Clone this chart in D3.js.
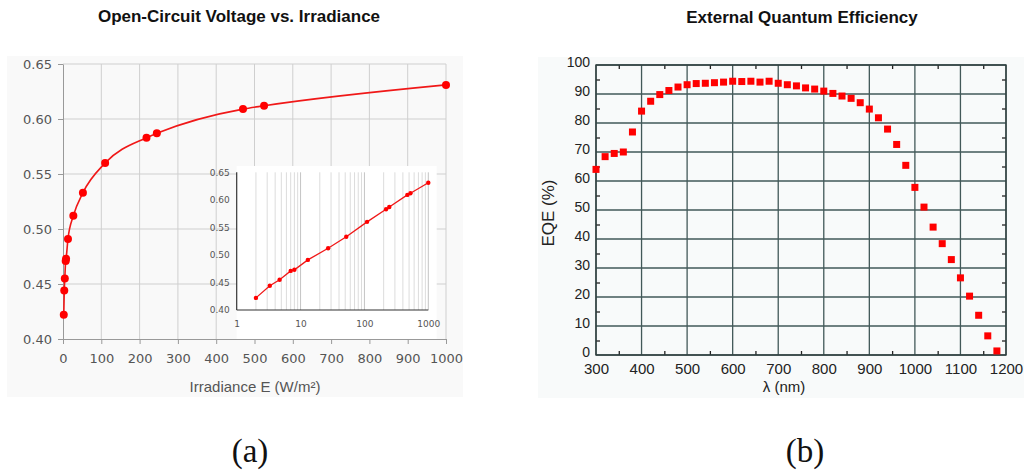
<!DOCTYPE html>
<html>
<head>
<meta charset="utf-8">
<script src="https://cdn.jsdelivr.net/npm/d3@7/dist/d3.min.js"></script>
<style>
  body { margin: 0; background: #fff; }
  svg text { font-family: "Liberation Sans", Arial, sans-serif; }
</style>
</head>
<body>
<svg id="fig" width="1024" height="472"></svg>
<script>
// ---- (a) open-circuit voltage against irradiance ----
const irradiance = [2, 3.3, 4.7, 7, 8, 13, 27, 52, 110, 218, 245, 470, 525, 1000];   // W/m²
const voc        = [0.422, 0.444, 0.455, 0.471, 0.473, 0.491, 0.512, 0.533, 0.560, 0.583, 0.587, 0.609, 0.612, 0.631]; // V
const irrTicks   = [0, 100, 200, 300, 400, 500, 600, 700, 800, 900, 1000];
const vocTicks   = [0.40, 0.45, 0.50, 0.55, 0.60, 0.65];
const logTicks   = [1, 10, 100, 1000];

// ---- (b) external quantum efficiency ----
const wavelength = [300, 320, 340, 360, 380, 400, 420, 440, 460, 480,
                    500, 520, 540, 560, 580, 600, 620, 640, 660, 680,
                    700, 720, 740, 760, 780, 800, 820, 840, 860, 880,
                    900, 920, 940, 960, 980, 1000, 1020, 1040, 1060, 1080,
                    1100, 1120, 1140, 1160, 1180];
const eqe        = [64.0, 68.4, 69.5, 70.0, 76.9, 84.1, 87.5, 89.8, 91.2, 92.4,
                    93.2, 93.6, 93.7, 93.9, 94.1, 94.4, 94.3, 94.4, 94.1, 94.4,
                    93.7, 93.2, 92.8, 92.1, 91.7, 91.0, 90.2, 89.3, 88.5, 87.0,
                    84.8, 81.8, 77.9, 72.6, 65.4, 57.8, 51.0, 44.1, 38.4, 32.9,
                    26.6, 20.3, 13.7, 6.6, 1.4];
const lambdaTicks = [300, 400, 500, 600, 700, 800, 900, 1000, 1100, 1200];
const lambdaMinor = [350, 450, 550, 650, 750, 850, 950, 1050, 1150];
const eqeTicks    = [0, 10, 20, 30, 40, 50, 60, 70, 80, 90, 100];
const eqeMinor    = [5, 15, 25, 35, 45, 55, 65, 75, 85, 95];

const svg = d3.select("#fig");
const pts = irradiance.map((e, i) => ({ e, v: voc[i] }));
const intFmt = d3.format("d");

// ================= panel (a) =================
const A = { left: 63, right: 446, top: 64, bottom: 339 };
svg.append("rect").attr("x", 7).attr("y", 56).attr("width", 456).attr("height", 341).attr("fill", "#f9f9f9");

const xA = d3.scaleLinear().domain([0, 1000]).range([A.left, A.right]);
const yA = d3.scaleLinear().domain([0.40, 0.65]).range([A.bottom, A.top]);

const gA = svg.append("g");
// grid
gA.append("g").selectAll("line").data(irrTicks.slice(1)).join("line")
  .attr("x1", d => xA(d)).attr("x2", d => xA(d)).attr("y1", A.top).attr("y2", A.bottom)
  .attr("stroke", "#cfcfcf").attr("stroke-width", 1);
gA.append("g").selectAll("line").data(vocTicks.slice(1)).join("line")
  .attr("x1", A.left).attr("x2", A.right).attr("y1", d => yA(d)).attr("y2", d => yA(d))
  .attr("stroke", "#cfcfcf").attr("stroke-width", 1);

// axes
const axA = gA.append("g").attr("transform", `translate(0,${A.bottom})`)
  .call(d3.axisBottom(xA).tickValues(irrTicks).tickFormat(intFmt).tickSize(5).tickPadding(10).tickSizeOuter(0));
const ayA = gA.append("g").attr("transform", `translate(${A.left},0)`)
  .call(d3.axisLeft(yA).tickValues(vocTicks).tickFormat(d3.format(".2f")).tickSize(5).tickPadding(6).tickSizeOuter(0));
[axA, ayA].forEach(g => {
  g.select(".domain").attr("stroke", "#999");
  g.selectAll(".tick line").attr("stroke", "#999");
  g.selectAll("text").attr("fill", "#555").style("font-family", "'DejaVu Sans', sans-serif").style("font-size", "13px");
});

// main curve and points
const lineA = d3.line().x(d => xA(d.e)).y(d => yA(d.v)).curve(d3.curveMonotoneX);
gA.append("path").datum(pts).attr("d", lineA).attr("fill", "none").attr("stroke", "#f01818").attr("stroke-width", 1.6);
gA.append("g").selectAll("circle").data(pts).join("circle")
  .attr("cx", d => xA(d.e)).attr("cy", d => yA(d.v)).attr("r", 4).attr("fill", "#f00");

// inset, log scale
const I = { left: 236.7, right: 428.3, top: 172.3, bottom: 310 };
svg.append("rect").attr("x", I.left).attr("y", 166).attr("width", 200).attr("height", A.bottom - 166).attr("fill", "#fff");
const xI = d3.scaleLog().domain([1, 1000]).range([I.left, I.right]);
const yI = d3.scaleLinear().domain([0.40, 0.65]).range([I.bottom, I.top]);
const gI = svg.append("g");
gI.append("g").selectAll("line").data(xI.ticks().filter(d => d > 1)).join("line")
  .attr("x1", d => xI(d)).attr("x2", d => xI(d)).attr("y1", I.top).attr("y2", I.bottom)
  .attr("stroke", d => logTicks.includes(d) ? "#c4c4c4" : "#dcdcdc").attr("stroke-width", 1);
const axI = gI.append("g").attr("transform", `translate(0,${I.bottom})`)
  .call(d3.axisBottom(xI).tickValues(logTicks).tickFormat(intFmt).tickSize(0).tickPadding(11));
const ayI = gI.append("g").attr("transform", `translate(${I.left},0)`)
  .call(d3.axisLeft(yI).tickValues(vocTicks).tickFormat(d3.format(".2f")).tickSize(0).tickPadding(7));
[axI, ayI].forEach(g => {
  g.select(".domain").attr("stroke", "#333").attr("stroke-width", 1.2);
  g.selectAll("text").attr("fill", "#555").style("font-family", "'DejaVu Sans', sans-serif").style("font-size", "9px");
});
axI.select(".domain").attr("d", `M${I.left},0H${I.right}`);
ayI.select(".domain").attr("d", `M0,${I.bottom}V${I.top}`);
const lineI = d3.line().x(d => xI(d.e)).y(d => yI(d.v));
gI.append("path").datum(pts).attr("d", lineI).attr("fill", "none").attr("stroke", "#f01818").attr("stroke-width", 1.3);
gI.append("g").selectAll("circle").data(pts).join("circle")
  .attr("cx", d => xI(d.e)).attr("cy", d => yI(d.v)).attr("r", 2.2).attr("fill", "#f00");

// titles and labels
svg.append("text").attr("x", 239).attr("y", 22).attr("text-anchor", "middle")
  .style("font-weight", "bold").style("font-size", "17px").attr("fill", "#111")
  .text("Open-Circuit Voltage vs. Irradiance");
svg.append("text").attr("x", 255).attr("y", 392).attr("text-anchor", "middle")
  .style("font-size", "15px").attr("fill", "#555").text("Irradiance E (W/m²)");

// ================= panel (b) =================
const B = { left: 596, right: 1006, top: 65, bottom: 355 };
svg.append("rect").attr("x", 538).attr("y", 57).attr("width", 486).attr("height", 341).attr("fill", "#f8fafa");
const xB = d3.scaleLinear().domain([300, 1200]).range([B.left, B.right]);
const yB = d3.scaleLinear().domain([0, 100]).range([B.bottom, B.top]);
const gB = svg.append("g");
const gridColor = "#425858";

gB.append("g").selectAll("line").data(lambdaTicks).join("line")
  .attr("x1", d => xB(d)).attr("x2", d => xB(d)).attr("y1", B.top).attr("y2", B.bottom)
  .attr("stroke", gridColor).attr("stroke-width", 1.3);
gB.append("g").selectAll("line").data(eqeTicks).join("line")
  .attr("x1", B.left).attr("x2", B.right).attr("y1", d => yB(d)).attr("y2", d => yB(d))
  .attr("stroke", gridColor).attr("stroke-width", 1.3);

// minor ticks pointing inward on all four sides
const minor = [
  gB.append("g").attr("transform", `translate(0,${B.bottom})`).call(d3.axisBottom(xB).tickValues(lambdaMinor).tickSize(-4).tickFormat("")),
  gB.append("g").attr("transform", `translate(0,${B.top})`).call(d3.axisTop(xB).tickValues(lambdaMinor).tickSize(-4).tickFormat("")),
  gB.append("g").attr("transform", `translate(${B.left},0)`).call(d3.axisLeft(yB).tickValues(eqeMinor).tickSize(-4).tickFormat("")),
  gB.append("g").attr("transform", `translate(${B.right},0)`).call(d3.axisRight(yB).tickValues(eqeMinor).tickSize(-4).tickFormat(""))
];
minor.forEach(g => {
  g.select(".domain").remove();
  g.selectAll(".tick line").attr("stroke", "#222").attr("stroke-width", 1.3);
});

// labelled axes
const axB = gB.append("g").attr("transform", `translate(0,${B.bottom})`)
  .call(d3.axisBottom(xB).tickValues(lambdaTicks).tickFormat(intFmt).tickSize(0).tickPadding(8));
const ayB = gB.append("g").attr("transform", `translate(${B.left},0)`)
  .call(d3.axisLeft(yB).tickValues(eqeTicks).tickFormat(intFmt).tickSize(0).tickPadding(6));
[axB, ayB].forEach(g => {
  g.select(".domain").remove();
  g.selectAll("text").attr("fill", "#222");
});
axB.selectAll("text").style("font-size", "15px");
ayB.selectAll("text").style("font-size", "14px").attr("dy", "0.1em");

gB.append("rect").attr("x", B.left).attr("y", B.top).attr("width", B.right - B.left).attr("height", B.bottom - B.top)
  .attr("fill", "none").attr("stroke", "#2f3f3f").attr("stroke-width", 1.4);

gB.append("g").selectAll("rect").data(wavelength.map((w, i) => ({ w, q: eqe[i] }))).join("rect")
  .attr("x", d => xB(d.w) - 3.5).attr("y", d => yB(d.q) - 3.5).attr("width", 7).attr("height", 7)
  .attr("fill", "#f00");

svg.append("text").attr("x", 802).attr("y", 23).attr("text-anchor", "middle")
  .style("font-weight", "bold").style("font-size", "17px").attr("fill", "#111")
  .text("External Quantum Efficiency");
svg.append("text").attr("transform", "translate(554,213) rotate(-90)").attr("text-anchor", "middle")
  .style("font-size", "17px").attr("fill", "#222").text("EQE (%)");
svg.append("text").attr("x", 784).attr("y", 392).attr("text-anchor", "middle")
  .style("font-size", "15px").attr("fill", "#222").text("λ (nm)");

// ================= captions =================
svg.append("text").attr("x", 250).attr("y", 462).attr("text-anchor", "middle")
  .style("font-family", "'Liberation Serif', 'DejaVu Serif', serif").style("font-size", "33px").attr("fill", "#111").text("(a)");
svg.append("text").attr("x", 805).attr("y", 462).attr("text-anchor", "middle")
  .style("font-family", "'Liberation Serif', 'DejaVu Serif', serif").style("font-size", "33px").attr("fill", "#111").text("(b)");
</script>
</body>
</html>
